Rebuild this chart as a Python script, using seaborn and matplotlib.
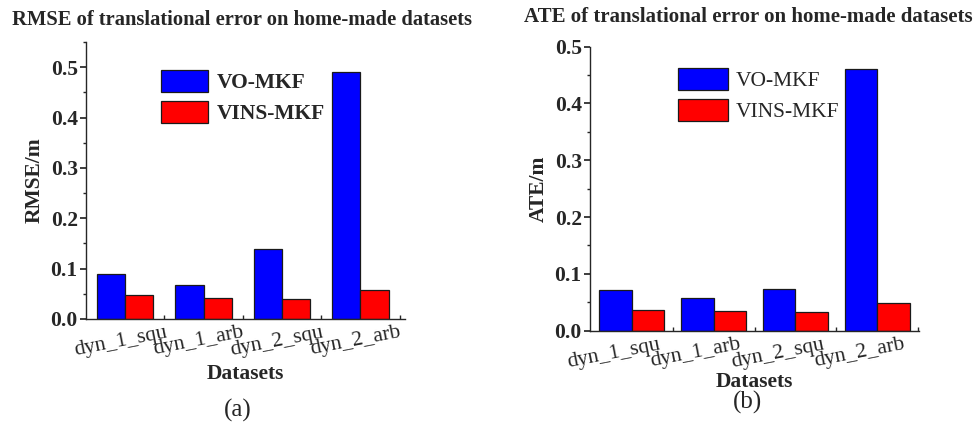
import matplotlib
matplotlib.use("Agg")
import matplotlib.pyplot as plt
import seaborn as sns
import pandas as pd
from matplotlib.patches import Patch
from matplotlib.ticker import MultipleLocator, FixedLocator

categories = ["dyn_1_squ", "dyn_1_arb", "dyn_2_squ", "dyn_2_arb"]
series_names = ["VO-MKF", "VINS-MKF"]
rmse_vo = [0.089, 0.068, 0.139, 0.491]
rmse_vins = [0.048, 0.041, 0.040, 0.057]
ate_vo = [0.072, 0.057, 0.073, 0.460]
ate_vins = [0.036, 0.034, 0.033, 0.049]
yticks = [0.0, 0.1, 0.2, 0.3, 0.4, 0.5]
colors = ["#0000FF", "#FF0000"]

sns.set_theme(style="ticks")
plt.rcParams["font.family"] = ["Liberation Serif", "DejaVu Serif"]
plt.rcParams["axes.linewidth"] = 1.0

def make_df(vo, vins):
    rows = []
    for c, a, b in zip(categories, vo, vins):
        rows.append({"Datasets": c, "Method": series_names[0], "val": a})
        rows.append({"Datasets": c, "Method": series_names[1], "val": b})
    return pd.DataFrame(rows)

fig = plt.figure(figsize=(9.78, 4.26), dpi=100)
ax1 = fig.add_axes([0.0879, 0.2512, 0.3263, 0.6502])
ax2 = fig.add_axes([0.6033, 0.2237, 0.3364, 0.6667])

panels = [
    (ax1, make_df(rmse_vo, rmse_vins), 0.72, (0, 0.55), (-0.5, 3.57), "RMSE/m", -0.06, 3),
    (ax2, make_df(ate_vo, ate_vins), 0.79, (0, 0.5), (-0.51, 3.51), "ATE/m", -0.22, 0),
]

for ax, df, w, ylim, xlim, ylab, shift, lp in panels:
    sns.barplot(data=df, x="Datasets", y="val", hue="Method", palette=colors,
                width=w, edgecolor="#1a1a1a", linewidth=0.9, ax=ax, legend=False,
                saturation=1)
    ax.set_ylim(*ylim)
    ax.set_xlim(*xlim)
    ax.set_yticks(yticks)
    ax.set_yticklabels([f"{t:.1f}" for t in yticks], fontsize=15.5, fontweight="bold")
    ax.yaxis.set_minor_locator(MultipleLocator(0.05))
    # label anchors (ticks themselves are hidden), nudged like the reference
    ax.set_xticks([i + shift for i in range(len(categories))])
    ax.set_xticklabels(categories, fontsize=15.5, rotation=11, ha="center")
    ax.xaxis.set_minor_locator(FixedLocator([0.5, 1.5, 2.5, 3.5]))
    ax.tick_params(axis="x", which="major", length=0, pad=3)
    ax.tick_params(axis="x", which="minor", length=3, direction="in")
    ax.tick_params(axis="y", which="major", length=4, direction="out", pad=2)
    ax.tick_params(axis="y", which="minor", length=2.5, direction="out")
    for s in ["top", "right"]:
        ax.spines[s].set_visible(False)
    ax.set_xlabel("Datasets", fontsize=15.5, fontweight="bold", labelpad=lp)
    ax.set_ylabel(ylab, fontsize=15.5, fontweight="bold", labelpad=4)

fig.text(242 / 978, 1 - 20 / 426, "RMSE of translational error on home-made datasets",
         fontsize=14.8, fontweight="bold", ha="center", va="center")
fig.text(748 / 978, 1 - 17 / 426, "ATE of translational error on home-made datasets",
         fontsize=15, fontweight="bold", ha="center", va="center")

fig.text(238 / 978, 1 - 410 / 426, "(a)", fontsize=18, ha="center", va="center")
fig.text(747 / 978, 1 - 402 / 426, "(b)", fontsize=18, ha="center", va="center")

handles = [Patch(facecolor=c, edgecolor="#1a1a1a", linewidth=0.9) for c in colors]
fig.legend(handles, series_names, loc="upper left",
           bbox_to_anchor=(161 / 978, 1 - 70 / 426), frameon=False,
           borderpad=0, borderaxespad=0, handlelength=2.2, handleheight=1.2,
           labelspacing=0.35, handletextpad=0.4,
           prop={"size": 15.5, "weight": "bold"})
fig.legend(handles, series_names, loc="upper left",
           bbox_to_anchor=(678 / 978, 1 - 68 / 426), frameon=False,
           borderpad=0, borderaxespad=0, handlelength=2.33, handleheight=1.2,
           labelspacing=0.35, handletextpad=0.35,
           prop={"size": 15.5})

fig.savefig("out.png", dpi=100)
